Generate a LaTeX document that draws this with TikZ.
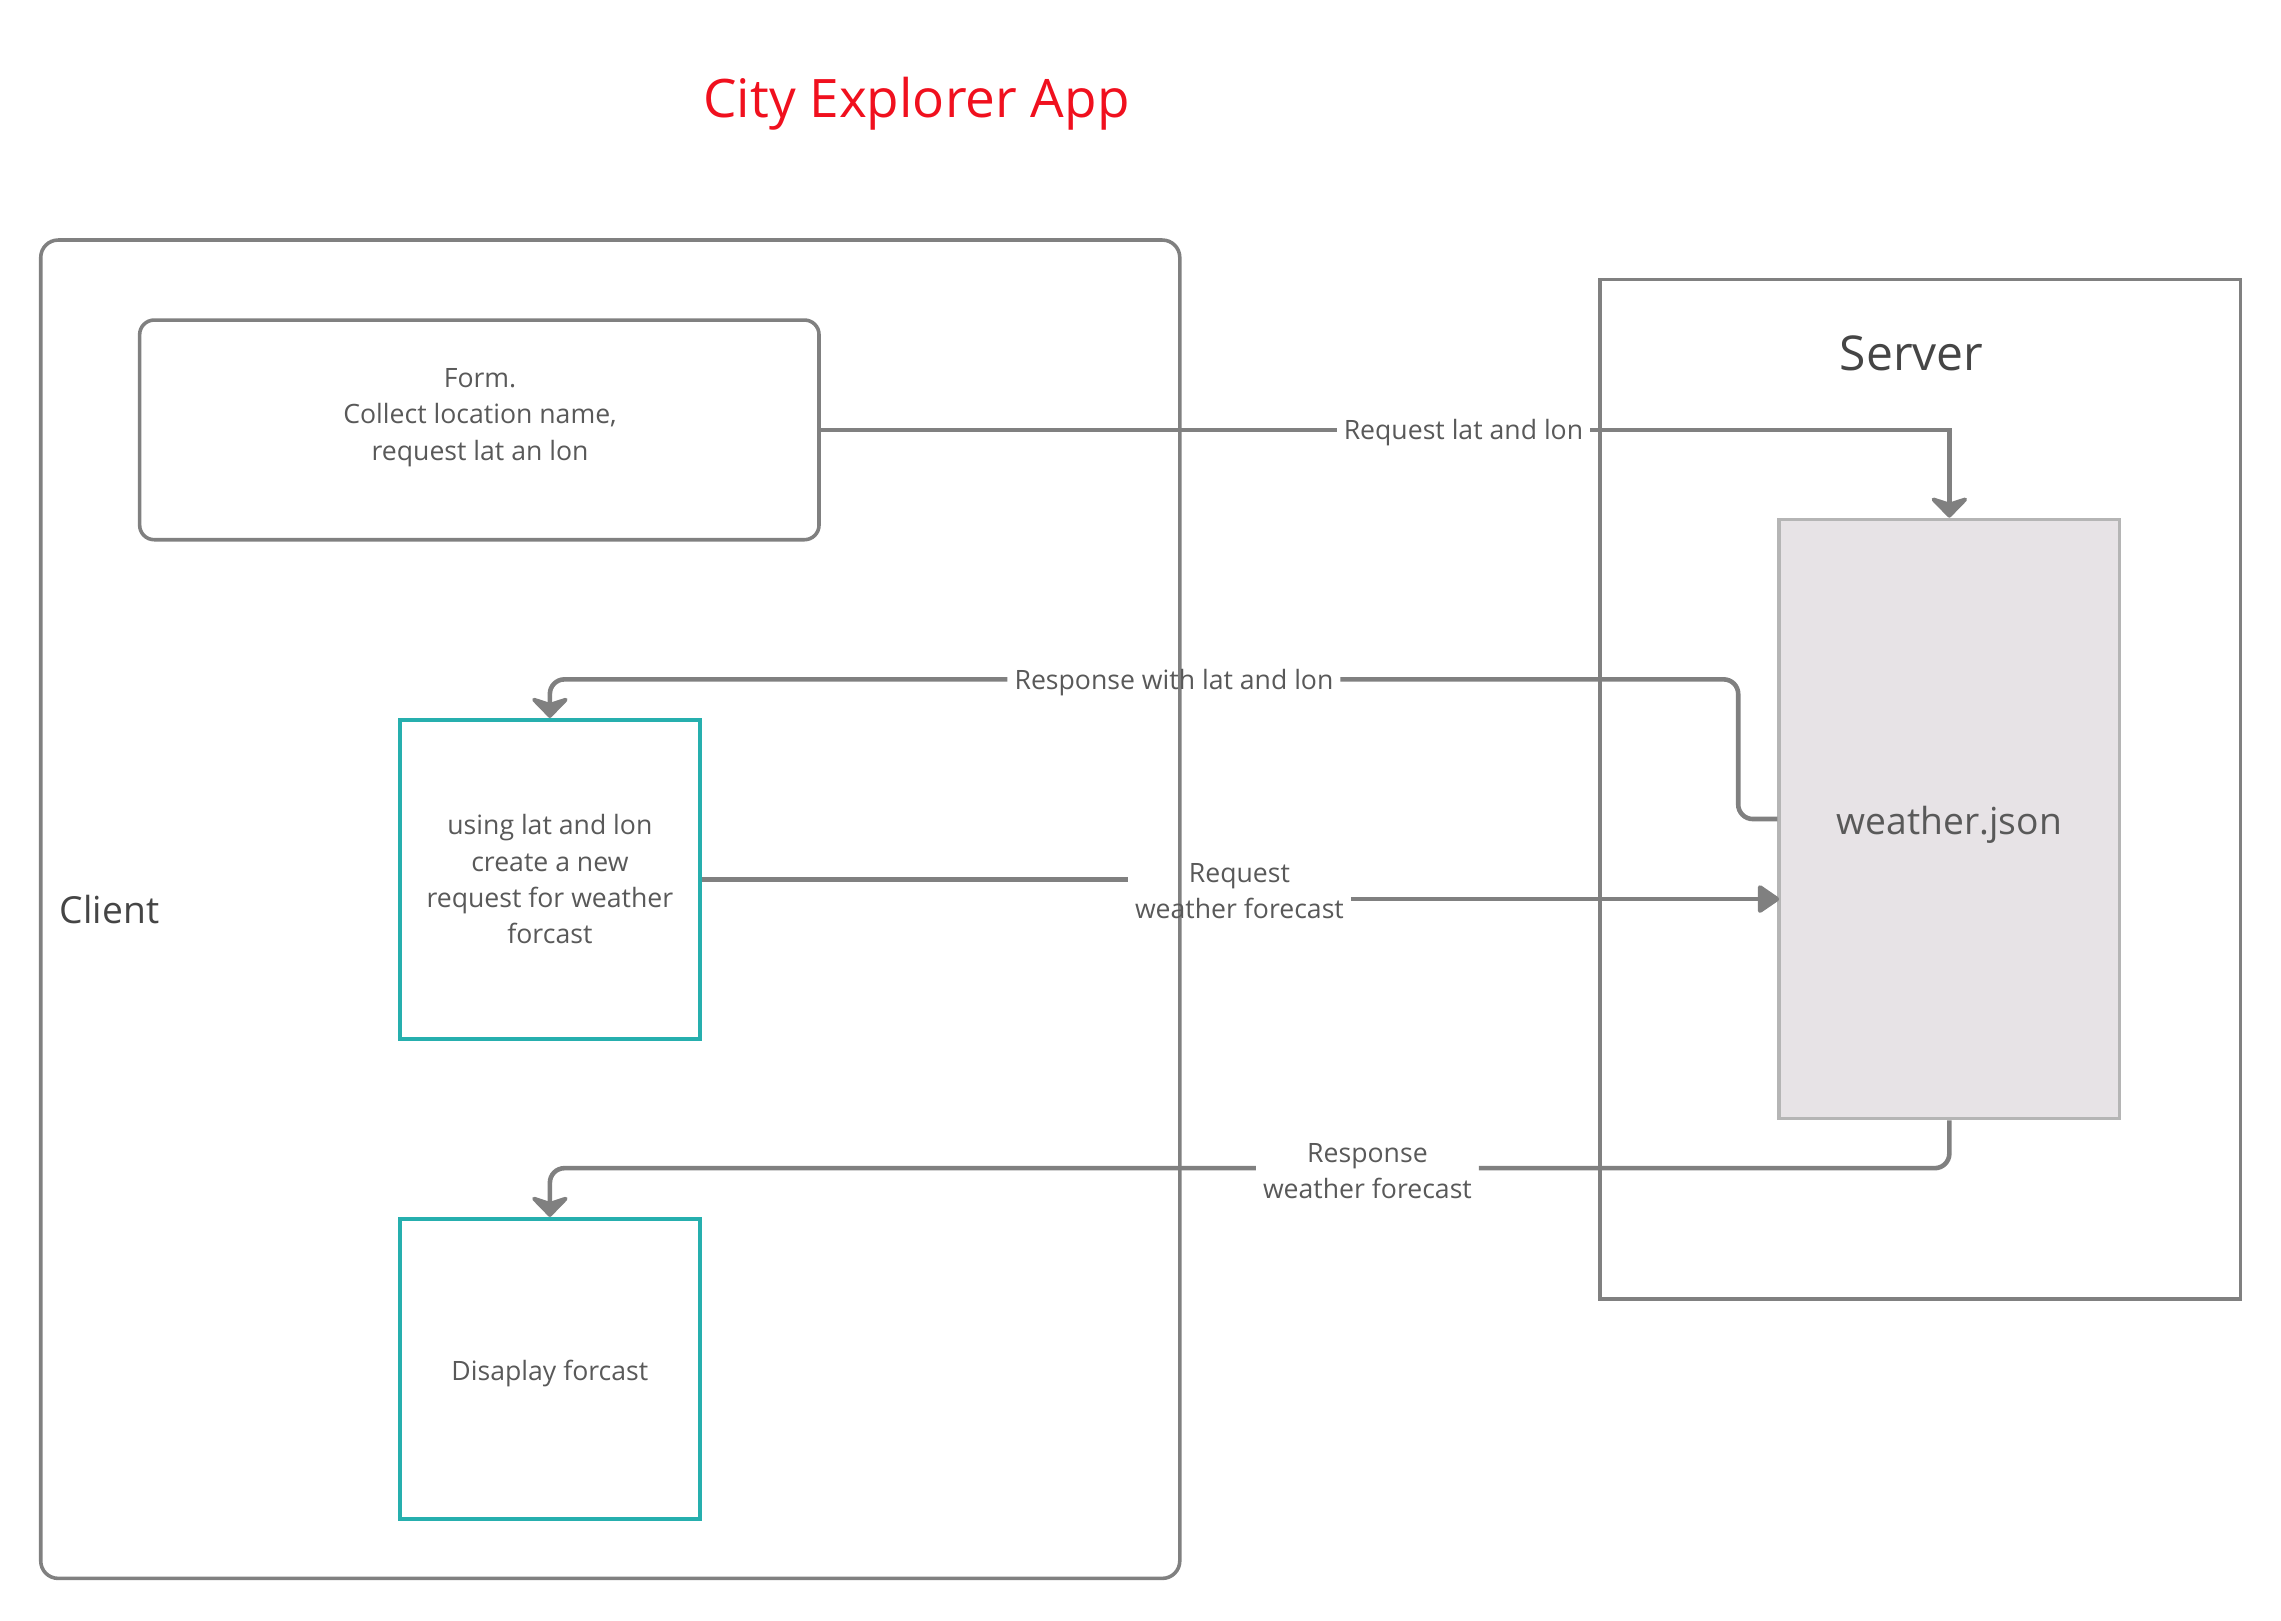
\documentclass[tikz,border=0pt]{standalone}
\usepackage{fontspec}
\setmainfont{Open Sans}
\usetikzlibrary{arrows.meta}

\definecolor{linegray}{HTML}{808080}
\definecolor{textgray}{HTML}{595959}
\definecolor{headgray}{HTML}{454545}
\definecolor{titlered}{HTML}{F0101E}
\definecolor{tealline}{HTML}{26AFAE}
\definecolor{jsonfill}{HTML}{E7E3E6}
\definecolor{jsonline}{HTML}{B5B5B5}

\tikzset{
  smalltext/.style={font=\fontsize{0.366cm}{0.5cm}\selectfont, text=textgray, align=center},
  flowlabel/.style={smalltext, inner xsep=0.09cm, inner ysep=0.05cm},
  panel/.style={draw=linegray, line width=1.4pt, inner sep=0pt},
  stepbox/.style={draw=tealline, line width=1.7pt, smalltext, inner sep=0pt, minimum width=4.12cm},
  flow/.style={draw=linegray, line width=1.8pt, rounded corners=0.2cm},
  chevron/.tip={Stealth[length=0.32cm, width=0.62cm, inset=0.1cm, round]},
  filledhead/.tip={Triangle[length=0.32cm, width=0.42cm, round]}
}

\begin{document}
\begin{tikzpicture}
\useasboundingbox (0,0) rectangle (31.36,-22.28); % page frame

% Title
\node[anchor=base, text=titlered, font=\fontsize{0.73cm}{0.9cm}\selectfont] (title) at (12.6,-1.61) {City Explorer App};

% Client side
\node[panel, rounded corners=0.24cm, minimum width=15.66cm, minimum height=18.40cm] (client) at (8.39,-12.50) {}; % client frame
\node[anchor=base west, text=headgray, font=\fontsize{0.512cm}{0.7cm}\selectfont] (clientlbl) at (0.70,-12.70) {Client};

% Server side
\node[panel, minimum width=8.8cm, minimum height=14.02cm] (server) at (26.4,-10.85) {}; % server frame
\node[anchor=base, text=headgray, font=\fontsize{0.66cm}{0.8cm}\selectfont] (serverlbl) at (26.28,-5.10) {Server};

% Connectors (labels sit in a gap of the line)
\node[flowlabel] (asklbl) at (20.12,-5.95) {Request lat and lon};
\node[flowlabel] (latlbl) at (16.14,-9.38) {Response with lat and lon};
\node[flowlabel] (reqlbl) at (17.04,-12.25) {Request\\weather forecast};
\node[flowlabel] (replbl) at (18.8,-16.10) {Response\\weather forecast};
\coordinate (reqin) at (24.46,-12.36); % entry point on weather.json

% Boxes
\node[panel, rounded corners=0.2cm, minimum width=9.34cm, minimum height=3.02cm] (form) at (6.59,-5.91) {}; % form box
\node[smalltext] (formtext) at (6.6,-5.74) {Form.\\Collect location name,\\request lat an lon};
\node[stepbox, minimum height=4.38cm] (using) at (7.56,-12.09) {using lat and lon\\create a new\\request for weather\\forcast};
\node[stepbox, minimum height=4.12cm, label={[smalltext, yshift=-0.06cm]center:Disaplay forcast}] (display) at (7.56,-18.82) {};
\node[draw=jsonline, fill=jsonfill, line width=1.3pt, minimum width=4.68cm, minimum height=8.24cm,
  label={[text=textgray, font=\fontsize{0.512cm}{0.7cm}\selectfont, yshift=-0.08cm]center:weather.json}] (weather) at (26.8,-11.26) {};

% Flow lines
\draw[flow] (form.east) -- (asklbl.west |- form.east);
\draw[flow, rounded corners=0pt, -{chevron}] (asklbl.east |- form.east) -| (weather.north);
\draw[flow] (weather.west) -- ++(-0.54,0) |- (latlbl.east |- 0,-9.34);
\draw[flow, -{chevron}] (latlbl.west |- 0,-9.34) -| (using.north);
\draw[flow] (using.east) -- (reqlbl.west |- using.east);
\draw[flow, -{filledhead}] (reqlbl.east |- reqin) -- (reqin);
\draw[flow] (weather.south) |- (replbl.east |- 0,-16.06);
\draw[flow, -{chevron}] (replbl.west |- 0,-16.06) -| (display.north);

\end{tikzpicture}
\end{document}
